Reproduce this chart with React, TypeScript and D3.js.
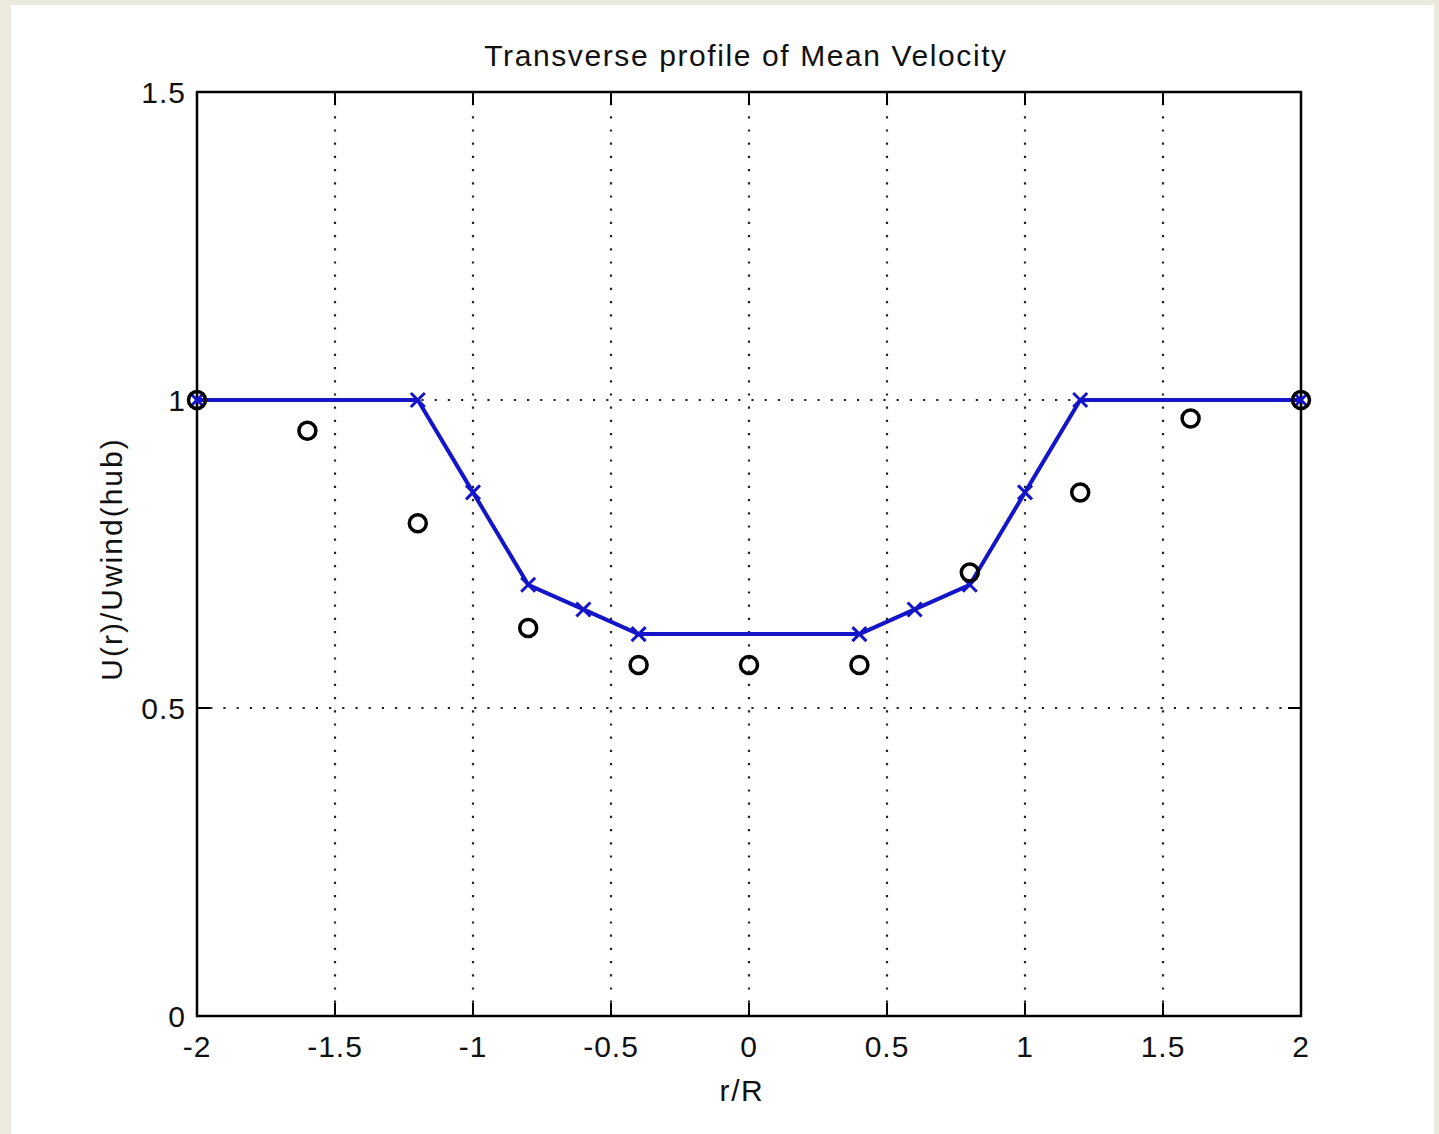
import React from "react";
import * as d3 from "d3";

// line series (blue, x markers)
const lineR = [-2, -1.2, -1, -0.8, -0.6, -0.4, 0.4, 0.6, 0.8, 1, 1.2, 2];
const lineU = [1, 1, 0.85, 0.7, 0.66, 0.62, 0.62, 0.66, 0.7, 0.85, 1, 1];

// measured points (black circles)
const circleR = [-2, -1.6, -1.2, -0.8, -0.4, 0, 0.4, 0.8, 1.2, 1.6, 2];
const circleU = [1, 0.95, 0.8, 0.63, 0.57, 0.57, 0.57, 0.72, 0.85, 0.97, 1];

const xTicks = [-2, -1.5, -1, -0.5, 0, 0.5, 1, 1.5, 2];
const yTicks = [0, 0.5, 1, 1.5];

const W = 1439;
const H = 1134;
const left = 197;
const right = 1301;
const top = 92;
const bottom = 1016;
const tickLen = 13;
const font = "'Liberation Sans', Arial, sans-serif";
const blue = "#1414c8";

const App: React.FC = () => {
  const x = d3.scaleLinear().domain([-2, 2]).range([left, right]);
  const y = d3.scaleLinear().domain([0, 1.5]).range([bottom, top]);

  const linePts = lineR.map((r, i) => [r, lineU[i]] as [number, number]);
  const circlePts = circleR.map((r, i) => [r, circleU[i]] as [number, number]);

  const line = d3
    .line<[number, number]>()
    .x((d) => x(d[0]))
    .y((d) => y(d[1]));

  const fmt = (v: number) => String(v);

  return (
    <svg
      width={W}
      height={H}
      style={{ position: "absolute", left: 0, top: 0, display: "block" }}
    >
      <rect x={0} y={0} width={W} height={H} fill="#ece9df" />
      <rect x={11} y={5} width={1423} height={H - 5} fill="#ffffff" />

      {/* grid */}
      <g stroke="#222" strokeWidth={2.2} strokeDasharray="2.2,11">
        {xTicks.slice(1, -1).map((t) => (
          <line key={"gx" + t} x1={x(t)} x2={x(t)} y1={bottom} y2={top} />
        ))}
        {yTicks.slice(1, -1).map((t) => (
          <line key={"gy" + t} x1={left} x2={right} y1={y(t)} y2={y(t)} />
        ))}
      </g>

      {/* ticks */}
      <g stroke="#000" strokeWidth={2}>
        {xTicks.map((t) => (
          <g key={"tx" + t}>
            <line x1={x(t)} x2={x(t)} y1={bottom} y2={bottom - tickLen} />
            <line x1={x(t)} x2={x(t)} y1={top} y2={top + tickLen} />
          </g>
        ))}
        {yTicks.map((t) => (
          <g key={"ty" + t}>
            <line x1={left} x2={left + tickLen} y1={y(t)} y2={y(t)} />
            <line x1={right} x2={right - tickLen} y1={y(t)} y2={y(t)} />
          </g>
        ))}
      </g>

      <rect
        x={left}
        y={top}
        width={right - left}
        height={bottom - top}
        fill="none"
        stroke="#000"
        strokeWidth={2.5}
      />

      {/* tick labels */}
      <g fontFamily={font} fontSize={30} fill="#111" letterSpacing={1}>
        {xTicks.map((t) => (
          <text key={"lx" + t} x={x(t)} y={1057} textAnchor="middle">
            {fmt(t)}
          </text>
        ))}
        {yTicks.map((t) => (
          <text key={"ly" + t} x={186} y={y(t) + 11} textAnchor="end">
            {fmt(t)}
          </text>
        ))}
      </g>

      {/* series */}
      <path
        d={line(linePts) || ""}
        fill="none"
        stroke={blue}
        strokeWidth={4}
        strokeLinejoin="round"
      />
      <g stroke={blue} strokeWidth={3}>
        {linePts.map((d, i) => (
          <g key={"xm" + i} transform={`translate(${x(d[0])},${y(d[1])})`}>
            <line x1={-7} y1={-7} x2={7} y2={7} />
            <line x1={-7} y1={7} x2={7} y2={-7} />
          </g>
        ))}
      </g>
      <g stroke="#000" strokeWidth={3.5} fill="none">
        {circlePts.map((d, i) => (
          <circle key={"c" + i} cx={x(d[0])} cy={y(d[1])} r={8.5} />
        ))}
      </g>

      {/* titles */}
      <g fontFamily={font} fontSize={30} fill="#111" letterSpacing={1.6}>
        <text x={746} y={66} textAnchor="middle">
          Transverse profile of Mean Velocity
        </text>
        <text x={742} y={1101} textAnchor="middle">
          r/R
        </text>
        <text
          transform={`translate(122,559) rotate(-90)`}
          textAnchor="middle"
          letterSpacing={2}
        >
          U(r)/Uwind(hub)
        </text>
      </g>
    </svg>
  );
};

export default App;
